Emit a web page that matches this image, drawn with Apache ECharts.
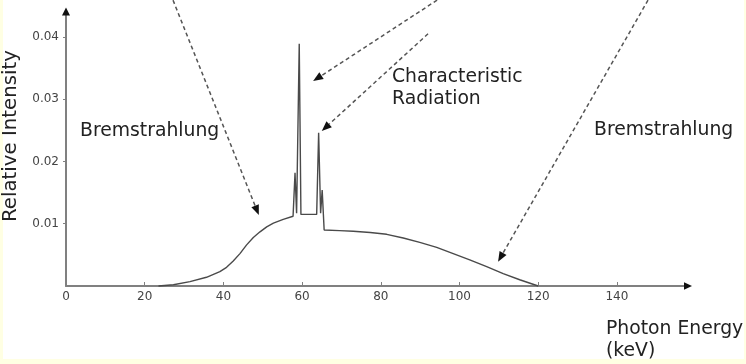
<!DOCTYPE html>
<html>
<head>
<meta charset="utf-8">
<script src="https://cdn.jsdelivr.net/npm/echarts@6/dist/echarts.min.js"></script>
<style>
html,body{margin:0;padding:0;background:#FFFFE3;}
#paper{position:absolute;left:3px;top:0;width:741px;height:359px;background:#ffffff;}
#chart{position:absolute;left:0;top:0;width:746px;height:364px;}
</style>
</head>
<body>
<div id="paper"></div>
<div id="chart"></div>
<script>
// Photon energy (keV) and relative intensity of the X-ray spectrum
const energy = [23.5, 27.3, 31.5, 35.7, 39.1, 40.8, 42.5, 44.2, 45.9, 47.6, 49.3, 51.0, 52.7, 55.2, 57.7,
  58.2, 58.6, 59.27, 59.7, 63.7, 64.2, 64.7, 65.1, 65.6,
  69.5, 73.0, 77.3, 81.5, 85.7, 89.9, 94.2, 98.4, 102.6, 106.9, 111.1, 115.3, 120];
const intensity = [0, 0.0002, 0.0007, 0.0014, 0.0023, 0.0030, 0.0040, 0.0052, 0.0066, 0.0078, 0.0087, 0.0095, 0.0101, 0.0107, 0.0112,
  0.0182, 0.0117, 0.0389, 0.0115, 0.0115, 0.0246, 0.0117, 0.0154, 0.0090,
  0.0089, 0.0088, 0.0086, 0.0083, 0.0077, 0.0070, 0.0062, 0.0052, 0.0042, 0.0031, 0.0020, 0.0010, 0];
const xTicks = [0, 20, 40, 60, 80, 100, 120, 140];
const yTicks = [0.01, 0.02, 0.03, 0.04];
const xMax = 157.3, yMax = 0.044;
// annotation arrows in data space: [startX, startY, endX, endY]
const arrows = [
  [27.2, 0.0459, 49.0, 0.0114],
  [94.3, 0.0459, 62.8, 0.0329],
  [92.0, 0.0405, 65.0, 0.0249],
  [147.9, 0.0459, 109.8, 0.0039]
];
const labels = ['Bremstrahlung', 'Characteristic\nRadiation', 'Bremstrahlung'];
const xName = 'Photon Energy\n(keV)';
const yName = 'Relative Intensity';

const FONT = 'DejaVu Sans';
const chart = echarts.init(document.getElementById('chart'), null, {renderer: 'canvas'});
const data = energy.map((e, i) => [e, intensity[i]]);
chart.setOption({
  backgroundColor: 'transparent',
  animation: false,
  grid: {left: 66, top: 12, right: 61, bottom: 78},
  xAxis: {
    type: 'value', min: 0, max: xMax,
    axisLine: {lineStyle: {color: '#808080', width: 2}},
    axisTick: {inside: true, length: 4, lineStyle: {color: '#808080', width: 1}, customValues: xTicks},
    axisLabel: {customValues: xTicks, color: '#444', fontSize: 12, fontFamily: FONT, margin: 5},
    splitLine: {show: false}
  },
  yAxis: {
    type: 'value', min: 0, max: yMax,
    axisLine: {show: true, lineStyle: {color: '#808080', width: 2}},
    axisTick: {show: true, inside: false, length: 3, lineStyle: {color: '#808080', width: 1}, customValues: yTicks},
    axisLabel: {customValues: yTicks, color: '#444', fontSize: 12, fontFamily: FONT, margin: 7,
      formatter: v => v.toFixed(2)},
    splitLine: {show: false}
  },
  series: [{
    type: 'line', data: data, showSymbol: false, smooth: false, clip: false,
    lineStyle: {color: '#4a4a4a', width: 1.4}
  }]
});

function px(p) { return chart.convertToPixel({gridIndex: 0}, p); }
const g = [];
function arrowHead(tip, dir, L, W, color) {
  const b = [tip[0] - dir[0] * L, tip[1] - dir[1] * L];
  const n = [-dir[1], dir[0]];
  return {type: 'polygon', z: 10, shape: {points: [tip, [b[0] + n[0] * W / 2, b[1] + n[1] * W / 2], [b[0] - n[0] * W / 2, b[1] - n[1] * W / 2]]},
    style: {fill: color}};
}
arrows.forEach(a => {
  const s = px([a[0], a[1]]), e = px([a[2], a[3]]);
  const dx = e[0] - s[0], dy = e[1] - s[1], len = Math.hypot(dx, dy);
  const d = [dx / len, dy / len];
  const L = 10, W = 8;
  const b = [e[0] - d[0] * L, e[1] - d[1] * L];
  g.push({type: 'line', z: 10, shape: {x1: s[0], y1: s[1], x2: b[0], y2: b[1]},
    style: {stroke: '#555', lineWidth: 1.5, lineDash: [4, 3]}});
  g.push(arrowHead(e, d, L, W, '#111'));
});
// axis arrows
const xEnd = px([xMax, 0]);
g.push(arrowHead([xEnd[0] + 7, xEnd[1]], [1, 0], 8, 7.5, '#111'));
const yEnd = px([0, yMax]);
g.push(arrowHead([yEnd[0], yEnd[1] - 4.5], [0, -1], 8, 8, '#111'));

function txt(text, x, y, opts) {
  return Object.assign({type: 'text', z: 12, x: x, y: y,
    style: Object.assign({text: text, fontSize: 18.8, fontFamily: FONT, fill: '#222',
      align: 'left', textAlign: 'left', verticalAlign: 'middle', textVerticalAlign: 'middle', lineHeight: 22.5}, opts || {})});
}
g.push(txt(labels[0], 80, 131));
g.push(txt(labels[1], 392, 88));
g.push(txt(labels[2], 594, 130));
g.push(txt(xName, 606, 340, {lineHeight: 22}));
g.push(Object.assign(txt(yName, 11, 136, {align: 'center', textAlign: 'center', fontSize: 19.8}), {rotation: Math.PI / 2}));
chart.setOption({graphic: g});
</script>
</body>
</html>
